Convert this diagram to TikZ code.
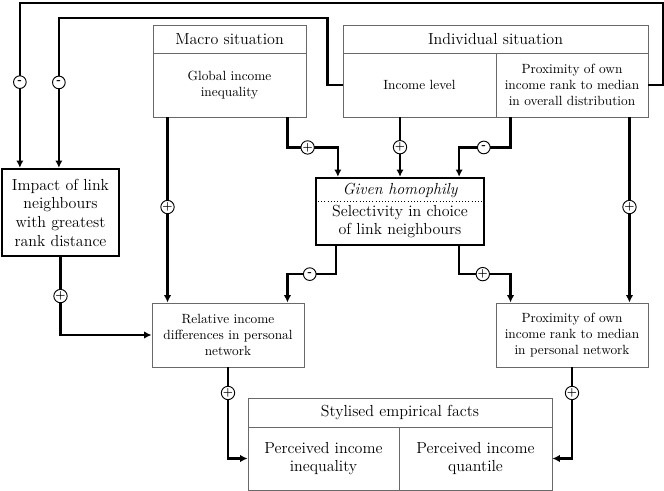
\documentclass[tikz,border=0pt]{standalone}
\usepackage{tikz}
\usetikzlibrary{arrows.meta,positioning,calc}
\definecolor{rand}{RGB}{105,105,105}

\begin{document}
\begin{tikzpicture}[x=0.75pt,y=-0.75pt,
  box/.style={draw=rand,line width=0.7pt,inner sep=0pt,align=center},
  thickbox/.style={draw,line width=1.7pt,inner sep=0pt,align=center},
  arr/.style={-{Latex[length=5.5pt,width=5.5pt]},line width=1.6pt},
  sign/.style={circle,draw,fill=white,line width=0.7pt,inner sep=0pt,minimum size=9.5pt,font=\footnotesize\bfseries}]
  \useasboundingbox (0,0) rectangle (664,491);

  % top
  \node[box,font=\large,minimum width=114.75pt,minimum height=21pt] (macroh) at (229.5,39) {Macro situation};
  \node[box,minimum width=114.75pt,minimum height=48pt] (macrob) at (229.5,85) {Global income\\inequality};
  \node[box,font=\large,minimum width=228.75pt,minimum height=21pt] (indh) at (495.5,39) {Individual situation};
  \node[box,minimum width=114.75pt,minimum height=48pt] (income) at (419.5,85) {Income level};
  \node[box,minimum width=114pt,minimum height=48pt] (proxo) at (572,85) {Proximity of own\\income rank to median\\in overall distribution};

  % middle
  \node[thickbox,font=\large,minimum width=87.75pt,minimum height=65.25pt] (impact) at (60.5,212.5) {Impact of link\\neighbours\\with greatest\\rank distance};
  \node[thickbox,minimum width=126pt,minimum height=50.25pt] (homo) at (400,211.5) {};
  \node[font=\large\itshape] (homot) at (400,190.5) {Given homophily};
  \node[font=\large,align=center] (homos) at (400,221.5) {Selectivity in choice\\of link neighbours};
  \draw[dotted,line width=0.4pt] ($(homo.north west)+(0,24)$) -- ($(homo.north east)+(0,24)$);

  \node[box,minimum width=114pt,minimum height=48pt] (rel) at (228,335) {Relative income\\differences in personal\\network};
  \node[box,minimum width=114pt,minimum height=48pt] (proxp) at (572,335) {Proximity of own\\income rank to median\\in personal network};

  % bottom
  \node[box,font=\large,minimum width=228pt,minimum height=21.75pt] (stylh) at (400,412.5) {Stylised empirical facts};
  \node[box,font=\large,minimum width=113.25pt,minimum height=47.25pt] (pineq) at (323.5,458.5) {Perceived income\\inequality};
  \node[box,font=\large,minimum width=114.75pt,minimum height=47.25pt] (pquant) at (475.5,458.5) {Perceived income\\quantile};

  % connectors
  \draw[arr] ($(macrob.south east)+(-19,0)$) -- ++(0,30) -| node[sign,pos=0.2]{+} ($(homo.north west)+(23,0)$);
  \draw[arr] ($(macrob.south west)+(15,0)$) -- node[sign,pos=0.484]{+} ($(rel.north west)+(16,0)$);
  \draw[arr] (homo.north |- income.south) -- node[sign,pos=0.5]{+} (homo.north);
  \draw[arr] ($(proxo.south west)+(15,0)$) -- ++(0,30) -| node[sign,pos=0.26]{-} ($(homo.north east)+(-26,0)$);
  \draw[arr] ($(proxo.south east)+(-19,0)$) -- node[sign,pos=0.484]{+} ($(proxp.north east)+(-19,0)$);

  \draw[arr] ($(homo.south west)+(21,0)$) -- ++(0,28) -| node[sign,pos=0.27]{-} ($(rel.north east)+(-17,0)$);
  \draw[arr] ($(homo.south east)+(-26,0)$) -- ++(0,28) -| node[sign,pos=0.23]{+} ($(proxp.north west)+(15,0)$);
  \draw[arr] (impact.south) |- node[sign,pos=0.25]{+} (rel.west);
  \draw[arr] (rel.south) |- node[sign,pos=0.14]{+} (pineq.west);
  \draw[arr] (proxp.south) |- node[sign,pos=0.14]{+} (pquant.east);

  % feedback loops
  \draw[arr] (income.west) -- ++(-15,0) -- ++(0,-67) -| node[sign,pos=0.715]{-} ($(impact.north west)+(58,0)$);
  \draw[arr] (proxo.east) -- ++(15,0) -- ++(0,-82) -| node[sign,pos=0.74]{-} ($(impact.north west)+(19,0)$);
\end{tikzpicture}
\end{document}
